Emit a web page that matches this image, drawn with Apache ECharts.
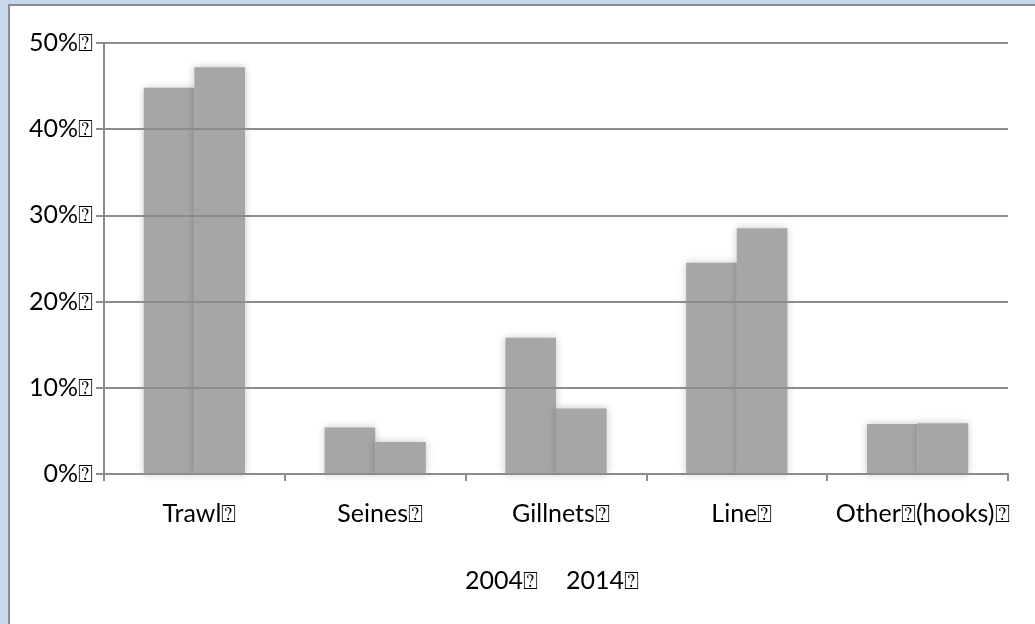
<!DOCTYPE html>
<html>
<head>
<meta charset="utf-8">
<script src="https://cdn.jsdelivr.net/npm/echarts@6/dist/echarts.min.js"></script>
<style>
html,body{margin:0;padding:0;width:1035px;height:624px;overflow:hidden;background:#c9d7ec;}
#chart{position:absolute;left:8px;top:4px;width:1025px;height:618px;background:#fff;border-left:2px solid #8c8c8c;border-top:2px solid #8c8c8c;}
</style>
</head>
<body>
<div id="chart"></div>
<script>
const categories = ['Trawl⍰', 'Seines⍰', 'Gillnets⍰', 'Line⍰', 'Other⍰(hooks)⍰'];
const seriesNames = ['2004', '2014'];
const values2004 = [44.8, 5.4, 15.8, 24.5, 5.8];
const values2014 = [47.2, 3.7, 7.6, 28.5, 5.9];
const yTicks = [0, 10, 20, 30, 40, 50];

const FONT = 'Lato, "Open Sans", "DejaVu Sans", sans-serif';
const chart = echarts.init(document.getElementById('chart'), null, {renderer: 'canvas'});
const barStyle = {
  color: '#a6a6a6',
  shadowBlur: 8,
  shadowColor: 'rgba(0,0,0,0.22)'
};
chart.setOption({
  animation: false,
  backgroundColor: '#ffffff',
  grid: {left: 94, right: 27, top: 37, bottom: 150, containLabel: false},
  legend: {
    data: seriesNames,
    left: 444,
    top: 557,
    icon: 'rect',
    itemWidth: 1,
    itemHeight: 1,
    itemGap: 22,
    itemStyle: {color: 'transparent', opacity: 0},
    formatter: n => n + '⍰',
    textStyle: {fontFamily: FONT, fontSize: 25, color: '#000'}
  },
  xAxis: {
    type: 'category',
    data: categories,
    z: 3,
    axisLine: {lineStyle: {color: '#8c8c8c', width: 2}},
    axisTick: {show: true, length: 7, lineStyle: {color: '#8c8c8c', width: 2}},
    axisLabel: {fontFamily: FONT, fontSize: 25, color: '#000', margin: 27, interval: 0, padding: [0, 0, 0, 10]},
    splitLine: {show: false}
  },
  yAxis: {
    type: 'value',
    z: 3,
    min: yTicks[0],
    max: yTicks[yTicks.length - 1],
    interval: 10,
    axisLine: {show: true, lineStyle: {color: '#8c8c8c', width: 2}},
    axisTick: {show: true, length: 8, lineStyle: {color: '#8c8c8c', width: 2}},
    axisLabel: {fontFamily: FONT, fontSize: 25, color: '#000', margin: 11, formatter: '{value}%⍰'},
    splitLine: {show: true, lineStyle: {color: '#8c8c8c', width: 2}}
  },
  series: [
    {name: seriesNames[0], type: 'bar', data: values2004, barGap: '0%', barCategoryGap: '44%', itemStyle: barStyle},
    {name: seriesNames[1], type: 'bar', data: values2014, barGap: '0%', barCategoryGap: '44%', itemStyle: barStyle}
  ]
});
</script>
</body>
</html>
